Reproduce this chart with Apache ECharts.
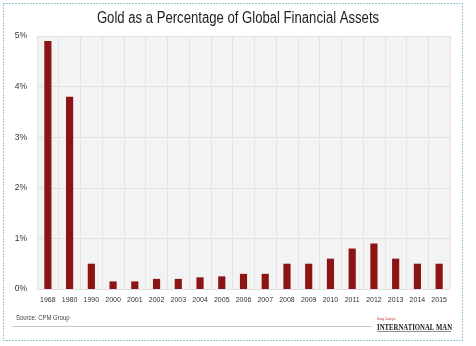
<!DOCTYPE html>
<html>
<head>
<meta charset="utf-8">
<script src="https://cdn.jsdelivr.net/npm/echarts@6/dist/echarts.min.js"></script>
<style>
  html, body { margin: 0; padding: 0; background: #ffffff; }
  #chart { width: 476px; height: 346px; }
</style>
</head>
<body>
<div id="chart"></div>
<script>
// Gold as a share of global financial assets, by year (percent)
const years = ['1968', '1980', '1990', '2000', '2001', '2002', '2003', '2004', '2005', '2006',
               '2007', '2008', '2009', '2010', '2011', '2012', '2013', '2014', '2015'];
const goldShare = [4.9, 3.8, 0.5, 0.15, 0.15, 0.2, 0.2, 0.23, 0.25, 0.3,
                   0.3, 0.5, 0.5, 0.6, 0.8, 0.9, 0.6, 0.5, 0.5];
const yTicks = [0, 1, 2, 3, 4, 5];

const sans = '"Liberation Sans", Arial, Helvetica, sans-serif';

const chart = echarts.init(document.getElementById('chart'), null, { renderer: 'canvas' });

chart.setOption({
  backgroundColor: '#ffffff',
  animation: false,
  grid: {
    left: 37, right: 26, top: 36, bottom: 57,
    show: true, backgroundColor: '#f3f3f3', borderWidth: 0
  },
  xAxis: {
    type: 'category',
    data: years,
    boundaryGap: true,
    axisLine: { show: false },
    axisTick: { show: false },
    axisLabel: { interval: 0, fontFamily: sans, fontSize: 7, color: '#333333', margin: 8 },
    splitLine: { show: true, interval: 0, lineStyle: { color: '#e3e3e3', width: 1 } }
  },
  yAxis: {
    type: 'value',
    min: yTicks[0],
    max: yTicks[yTicks.length - 1],
    interval: 1,
    axisLine: { show: false },
    axisTick: { show: false },
    axisLabel: { formatter: '{value}%', fontFamily: sans, fontSize: 8.5, color: '#333333', margin: 10 },
    splitLine: { show: true, lineStyle: { color: '#e0e0e0', width: 1 } }
  },
  series: [{
    type: 'bar',
    data: goldShare,
    barWidth: '33%',
    itemStyle: { color: '#8b1515' }
  }],
  graphic: [
    // condensed title
    {
      type: 'text', x: 238, y: 19, scaleX: 0.82, silent: true,
      style: {
        text: 'Gold as a Percentage of Global Financial Assets',
        fill: '#222222', font: '16px ' + sans,
        textAlign: 'center', textVerticalAlign: 'middle'
      }
    },
    // dotted frame
    {
      type: 'rect', silent: true,
      shape: { x: 3.5, y: 3.5, width: 459, height: 337 },
      style: { fill: 'none', stroke: '#3b8ea5', lineWidth: 1, lineDash: [1, 2] }
    },
    {
      type: 'text', x: 16, y: 318, scaleX: 0.85, silent: true,
      style: { text: 'Source: CPM Group', fill: '#444444', font: '7px ' + sans, textVerticalAlign: 'middle' }
    },
    {
      type: 'line', silent: true,
      shape: { x1: 12, y1: 326.5, x2: 372, y2: 326.5 },
      style: { stroke: '#c8c8c8', lineWidth: 1 }
    },
    {
      type: 'text', x: 377, y: 319.5, silent: true,
      style: { text: "Doug Casey's", fill: '#b22222', font: '3px ' + sans, textVerticalAlign: 'middle' }
    },
    {
      type: 'text', x: 377, y: 327.5, scaleX: 0.75, silent: true,
      style: {
        text: 'INTERNATIONAL MAN', fill: '#222222',
        font: 'bold 9px "Liberation Serif", "DejaVu Serif", serif', textVerticalAlign: 'middle'
      }
    },
    {
      type: 'line', silent: true,
      shape: { x1: 377, y1: 331.5, x2: 451, y2: 331.5 },
      style: { stroke: '#444444', lineWidth: 0.6 }
    }
  ]
});
</script>
</body>
</html>
